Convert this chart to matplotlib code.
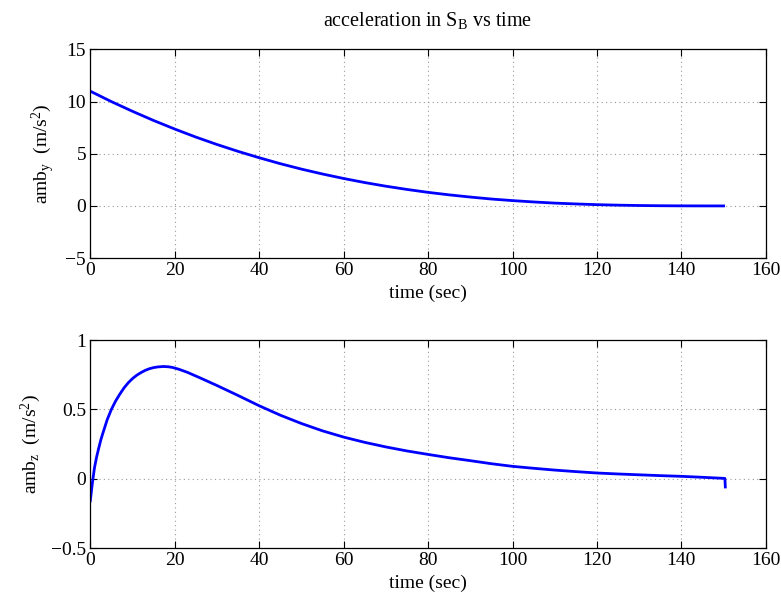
import matplotlib
matplotlib.use("Agg")
import matplotlib.pyplot as plt

plt.rcParams['font.family'] = ['Liberation Serif', 'DejaVu Serif']
plt.rcParams['mathtext.fontset'] = 'custom'
plt.rcParams['mathtext.rm'] = 'Liberation Serif'
plt.rcParams['mathtext.it'] = 'Liberation Serif'

# top panel: amb_y (m/s^2)
t_y = [0, 5, 10, 15, 20, 25, 30, 35, 40, 45, 50, 55, 60, 65, 70, 75, 80, 85, 90, 95,
       100, 105, 110, 115, 120, 125, 130, 135, 140, 145, 150]
amb_y = [11.0, 10.0, 9.07, 8.19, 7.37, 6.60, 5.89, 5.23, 4.62, 4.05, 3.53, 3.06, 2.63, 2.24, 1.89, 1.58,
         1.30, 1.06, 0.85, 0.66, 0.51, 0.38, 0.27, 0.19, 0.12, 0.073, 0.039, 0.017, 0.006, 0.001, 0.0]

# bottom panel: amb_z (m/s^2)
t_z = [0, 0.5, 1, 1.5, 2, 2.5, 3, 4, 5, 6, 7, 8, 9, 10, 11, 12, 13, 14, 15, 16, 17.3, 18.5, 19.5,
       21, 23, 26, 30, 35, 40, 45, 50, 55, 60, 65, 70, 75, 80, 85, 90, 95, 100, 105, 110, 115, 120,
       125, 130, 135, 140, 145, 150.3, 150.4]
amb_z = [-0.16, -0.03, 0.08, 0.157, 0.22, 0.28, 0.33, 0.425, 0.50, 0.56, 0.61, 0.655, 0.692, 0.722,
         0.746, 0.765, 0.781, 0.793, 0.801, 0.806, 0.809, 0.807, 0.802,
         0.789, 0.767, 0.727, 0.672, 0.60, 0.526, 0.458, 0.398, 0.345, 0.30,
         0.262, 0.229, 0.20, 0.175, 0.151, 0.13, 0.108, 0.089, 0.075, 0.062, 0.051, 0.041, 0.034,
         0.028, 0.022, 0.017, 0.01, 0.002, -0.06]

xticks = [0, 20, 40, 60, 80, 100, 120, 140, 160]
yticks_top = [-5, 0, 5, 10, 15]
yticks_bot = [-0.5, 0, 0.5, 1]
ytick_labels_bot = ['\u22120.5', '0', '0.5', '1']
ytick_labels_top = ['\u22125', '0', '5', '10', '15']

fig = plt.figure(figsize=(7.81, 5.96), dpi=100)
ax1 = fig.add_axes([0.1156, 0.567, 0.865, 0.350])
ax2 = fig.add_axes([0.1156, 0.0805, 0.865, 0.349])

def style(ax):
    ax.set_xlim(0, 160)
    ax.set_xticks(xticks)
    ax.tick_params(direction='in', top=True, right=True, labelsize=14, length=5, width=0.8, pad=3)
    ax.grid(True, linestyle=(0, (1, 3)), color='#999999', linewidth=0.8)
    for s in ax.spines.values():
        s.set_linewidth(0.9)

ax1.plot(t_y, amb_y, color='#0000ff', linewidth=2.0)
style(ax1)
ax1.set_ylim(-5, 15)
ax1.set_yticks(yticks_top)
ax1.set_yticklabels(ytick_labels_top)
ax1.set_xlabel('time (sec)', fontsize=14, labelpad=4)
ax1.set_ylabel(r'amb$_\mathregular{y}$  (m/s$^\mathregular{2}$)', fontsize=14, labelpad=6)
ax1.set_title(r'acceleration in S$_\mathregular{B}$ vs time', fontsize=14.5, pad=17)

ax2.plot(t_z, amb_z, color='#0000ff', linewidth=2.0)
style(ax2)
ax2.set_ylim(-0.5, 1)
ax2.set_yticks(yticks_bot)
ax2.set_yticklabels(ytick_labels_bot)
ax2.set_xlabel('time (sec)', fontsize=14, labelpad=4)
ax2.set_ylabel(r'amb$_\mathregular{z}$  (m/s$^\mathregular{2}$)', fontsize=14, labelpad=6)

fig.savefig('out.png', dpi=100)
